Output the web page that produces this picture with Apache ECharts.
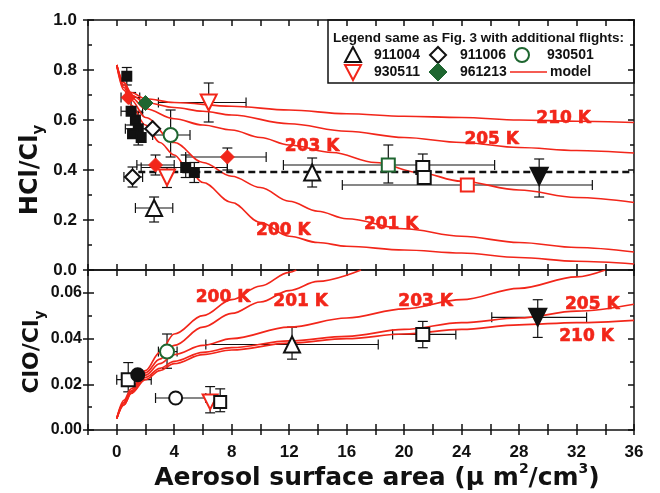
<!DOCTYPE html>
<html>
<head>
<meta charset="utf-8">
<script src="https://cdn.jsdelivr.net/npm/echarts@6/dist/echarts.min.js"></script>
<style>
  html, body { margin: 0; padding: 0; background: #fff; }
  #chart { width: 660px; height: 493px; }
</style>
</head>
<body>
<div id="chart"></div>
<script>
// model curves, HCl/Cly panel  [x, y]
const hcl210 = [[0,0.82],[0.5,0.75],[1,0.71],[2,0.685],[4,0.67],[8,0.655],[12,0.64],[16,0.625],[20,0.615],[24,0.61],[28,0.60],[32,0.595],[36,0.59]];
const hcl205 = [[0,0.82],[0.5,0.75],[1,0.70],[2,0.67],[4,0.65],[6,0.635],[8,0.62],[12,0.585],[16,0.555],[20,0.53],[24,0.51],[28,0.49],[32,0.478],[36,0.468]];
const hcl203 = [[0,0.82],[0.5,0.74],[1,0.69],[2,0.645],[4,0.605],[6,0.58],[8,0.56],[10,0.53],[12,0.50],[15,0.47],[18,0.43],[21,0.39],[24,0.355],[28,0.32],[32,0.29],[36,0.27]];
const hcl201 = [[0,0.82],[0.5,0.73],[1,0.68],[2,0.61],[4,0.51],[6,0.43],[8,0.375],[10,0.33],[12,0.275],[14,0.235],[16,0.205],[20,0.165],[24,0.135],[28,0.11],[32,0.09],[36,0.072]];
const hcl200 = [[0,0.82],[0.5,0.72],[1,0.66],[2,0.58],[3,0.51],[4,0.46],[5,0.40],[6,0.35],[8,0.27],[10,0.19],[12,0.135],[14,0.11],[16,0.095],[20,0.08],[24,0.068],[28,0.05],[32,0.035],[36,0.024]];

// model curves, ClO/Cly panel
const clo200 = [[0,0.005],[0.5,0.013],[1,0.018],[2,0.026],[3,0.034],[4,0.042],[6,0.050],[8,0.057],[10,0.063],[12,0.069],[12.5,0.07]];
const clo201 = [[0,0.005],[0.5,0.012],[1,0.017],[2,0.025],[3,0.031],[4,0.037],[6,0.045],[8,0.051],[10,0.056],[12,0.061],[14,0.065],[17,0.07]];
const clo203 = [[0,0.005],[0.5,0.012],[1,0.017],[2,0.024],[3,0.029],[4,0.033],[6,0.037],[8,0.040],[12,0.045],[16,0.049],[20,0.053],[24,0.057],[28,0.062],[32,0.067],[34,0.07]];
const clo205 = [[0,0.005],[0.5,0.011],[1,0.016],[2,0.023],[3,0.027],[4,0.030],[6,0.034],[8,0.036],[12,0.039],[16,0.041],[20,0.044],[24,0.047],[28,0.049],[32,0.052],[36,0.055]];
const clo210 = [[0,0.005],[0.5,0.011],[1,0.016],[2,0.022],[3,0.026],[4,0.029],[6,0.033],[8,0.035],[12,0.038],[16,0.040],[20,0.042],[24,0.044],[28,0.046],[32,0.047],[36,0.048]];

// curve labels [text, x, y]
const hclLabels = [['210 K',31.1,0.604],['205 K',26.1,0.52],['203 K',13.6,0.492],['201 K',19.1,0.18],['200 K',11.6,0.156]];
const cloLabels = [['200 K',7.4,0.058],['201 K',12.8,0.056],['203 K',21.5,0.056],['205 K',33.1,0.055],['210 K',32.7,0.041]];

// reference line
const hclRefLine = [[1.5,0.392],[36,0.392]];

// observations [x, y, xLow, xHigh, yLow, yHigh]
const hcl911004 = [[2.6,0.248,1.3,3.9,0.192,0.292],[13.6,0.39,null,null,0.332,0.448]];
const clo911004 = [[12.2,0.0374,6.2,18.2,0.031,0.045]];
const hcl911006 = [[1.1,0.372,0.5,1.8,0.332,0.412],[2.5,0.565,null,null,null,null]];
const hcl930501 = [[3.75,0.54,2.5,5.1,0.452,0.64]];
const clo930501 = [[3.5,0.0343,2.9,4.2,0.027,0.042]];
const hcl930511 = [[6.4,0.67,2.9,9.0,0.592,0.748],[3.5,0.37,null,null,0.33,0.41]];
const clo930511 = [[6.5,0.0123,null,null,0.0075,0.019]];
const hcl961213 = [[2.0,0.668,null,null,null,null]];
// other flights of Fig. 3
const hclBlackSq = [[0.7,0.775,null,null,0.74,0.81],[1.0,0.635,0.3,1.8,0.58,0.71],[1.3,0.60,null,null,null,null],[1.5,0.565,0.6,2.3,0.5,0.63],[1.1,0.545,null,null,null,null],[1.7,0.53,null,null,null,null],[4.8,0.41,1.7,7.7,0.37,0.46],[5.4,0.39,null,null,0.35,0.43]];
const hclRedDia = [[0.8,0.69,0.3,1.6,null,null],[2.7,0.42,1.4,4.0,0.38,0.46],[7.7,0.452,4.8,10.4,0.4,0.488]];
const hclGreenSq = [[18.9,0.42,11.6,26.3,0.348,0.5]];
const hclOpenSq = [[21.3,0.41,null,null,0.352,0.464],[21.4,0.37,null,null,null,null]];
const cloOpenSq = [[21.3,0.0418,19.2,23.6,0.036,0.0475],[0.8,0.022,0,2.4,0.0167,0.0295]];
const hclRedSq = [[24.4,0.34,15.7,33.1,null,null]];
const hclBlackInv = [[29.4,0.375,null,null,0.292,0.444]];
const cloBlackInv = [[29.3,0.0493,26.1,32.7,0.0405,0.057]];
const cloBlackCirc = [[1.46,0.0242,null,null,null,null]];
const cloCrossCirc = [[4.1,0.014,2.7,6.2,null,null]];
const cloHatchSq = [[7.2,0.0123,null,null,0.008,0.018]];

const RED = '#f2261a';
const GREEN = '#1e6630';
const INK = '#111';
const FONT = 'Liberation Sans';
const WIDE = 'DejaVu Sans';

const chart = echarts.init(document.getElementById('chart'));

function errBars(params, api) {
  const x = api.value(0), y = api.value(1);
  const xl = api.value(2), xh = api.value(3), yl = api.value(4), yh = api.value(5);
  const st = { stroke: INK, lineWidth: 1.2, fill: null };
  const kids = [];
  const line = (a, b) => kids.push({ type: 'line', shape: { x1: a[0], y1: a[1], x2: b[0], y2: b[1] }, style: st });
  if (isFinite(xl) && isFinite(xh)) {
    const a = api.coord([xl, y]), b = api.coord([xh, y]);
    line(a, b);
    line([a[0], a[1] - 5], [a[0], a[1] + 5]);
    line([b[0], b[1] - 5], [b[0], b[1] + 5]);
  }
  if (isFinite(yl) && isFinite(yh)) {
    const a = api.coord([x, yl]), b = api.coord([x, yh]);
    line(a, b);
    line([a[0] - 5, a[1]], [a[0] + 5, a[1]]);
    line([b[0] - 5, b[1]], [b[0] + 5, b[1]]);
  }
  return { type: 'group', children: kids };
}

function errSeries(grid, rows) {
  const ax = grid === 0 ? 0 : 3;
  return {
    type: 'custom', xAxisIndex: ax, yAxisIndex: ax, z: 2, silent: true,
    renderItem: errBars,
    dimensions: ['x', 'y', 'xl', 'xh', 'yl', 'yh'],
    encode: { x: 0, y: 1 },
    data: rows.map(r => r.map(v => (v === null ? '-' : v)))
  };
}

function pts(grid, rows, symbol, size, fill, stroke, rotate, bw) {
  const ax = grid === 0 ? 0 : 3;
  return {
    type: 'scatter', xAxisIndex: ax, yAxisIndex: ax, z: 5, silent: true,
    symbol: symbol, symbolSize: size, symbolRotate: rotate || 0,
    itemStyle: { color: fill, borderColor: stroke, borderWidth: bw === undefined ? 2 : bw, opacity: 1 },
    data: rows.map(r => [r[0], r[1]])
  };
}

function curve(grid, data) {
  const ax = grid === 0 ? 0 : 3;
  return {
    type: 'line', xAxisIndex: ax, yAxisIndex: ax, z: 3, silent: true,
    data: data, smooth: 0.35, smoothMonotone: 'x', showSymbol: false, symbol: 'none',
    lineStyle: { color: RED, width: 1.7 }
  };
}

function curveLabels(grid, rows) {
  const ax = grid === 0 ? 0 : 3;
  return {
    type: 'scatter', xAxisIndex: ax, yAxisIndex: ax, z: 6, silent: true,
    symbolSize: 0,
    itemStyle: { color: RED, opacity: 1 },
    label: {
      show: true, position: 'inside', formatter: p => p.name,
      color: RED, fontFamily: WIDE, fontWeight: 'bold', fontSize: 17,
      textBorderColor: RED, textBorderWidth: 0.6, opacity: 1
    },
    data: rows.map(r => ({ name: r[0], value: [r[1], r[2]] }))
  };
}

const tickStyle = { color: INK, width: 1.5 };
function xAx(grid, pos, opts) {
  return Object.assign({
    type: 'value', gridIndex: grid, position: pos, min: -2, max: 36, interval: 2,
    splitLine: { show: false },
    axisLine: { show: true, onZero: false, lineStyle: { color: INK, width: 1.5 } },
    axisTick: { show: true, inside: true, length: 6, lineStyle: tickStyle },
    axisLabel: { show: false }
  }, opts || {});
}
function yAx(grid, pos, opts) {
  return Object.assign({
    type: 'value', gridIndex: grid, position: pos,
    splitLine: { show: false },
    axisLine: { show: true, onZero: false, lineStyle: { color: INK, width: 1.5 } },
    axisTick: { show: true, inside: true, length: 6, lineStyle: tickStyle },
    minorTick: { show: true, splitNumber: 2, length: 4, lineStyle: tickStyle },
    axisLabel: { show: false }
  }, opts || {});
}

const hclRange = { min: 0, max: 1, interval: 0.2 };
const cloRange = { min: 0, max: 0.07, interval: 0.02 };

const legendText = (x, y, t, size) => ({
  type: 'text', x: x, y: y,
  style: { text: t, fontFamily: FONT, fontWeight: 'bold', fontSize: size || 13.5, fill: INK, verticalAlign: 'middle' }
});

const option = {
  animation: false,
  backgroundColor: '#fff',
  grid: [
    { left: 88, top: 20, width: 546, height: 250 },
    { left: 88, top: 270, width: 546, height: 160 }
  ],
  xAxis: [
    xAx(0, 'bottom'),
    xAx(0, 'top'),
    xAx(1, 'top'),
    xAx(1, 'bottom', {
      axisLabel: {
        show: true, margin: 14, color: INK, fontFamily: FONT, fontWeight: 'bold', fontSize: 17,
        formatter: v => (v >= 0 && v % 4 === 0 ? String(v) : '')
      }
    }),
    xAx(1, 'bottom', {
      axisLine: { show: false, onZero: false },
      axisTick: { show: true, inside: false, length: 5, lineStyle: tickStyle }
    })
  ],
  yAxis: [
    yAx(0, 'left', Object.assign({
      axisLabel: {
        show: true, margin: 11, color: INK, fontFamily: FONT, fontWeight: 'bold', fontSize: 17,
        formatter: v => v.toFixed(1)
      }
    }, hclRange)),
    yAx(0, 'left', Object.assign({
      axisLine: { show: false, onZero: false },
      axisTick: { show: true, inside: false, length: 5, lineStyle: tickStyle },
      minorTick: { show: false }
    }, hclRange)),
    yAx(0, 'right', hclRange),
    yAx(1, 'left', Object.assign({
      axisLabel: {
        show: true, margin: 6, color: INK, fontFamily: FONT, fontWeight: 'bold', fontSize: 16,
        showMaxLabel: false,
        formatter: v => (Math.abs(v * 100 % 2) < 1e-6 || Math.abs(v * 100 % 2 - 2) < 1e-6 ? v.toFixed(2) : '')
      }
    }, cloRange)),
    yAx(1, 'left', Object.assign({
      axisLine: { show: false, onZero: false },
      axisTick: { show: true, inside: false, length: 5, lineStyle: tickStyle },
      minorTick: { show: false }
    }, cloRange)),
    yAx(1, 'right', cloRange)
  ],
  graphic: [
    // y titles
    {
      type: 'text', x: 31, y: 170, rotation: Math.PI / 2, z: 10,
      style: {
        text: '{m|HCl/Cl}{s|y}', align: 'center', verticalAlign: 'middle',
        rich: {
          m: { fontFamily: WIDE, fontWeight: 'bold', fontSize: 24, fill: INK, lineHeight: 32 },
          s: { fontFamily: WIDE, fontWeight: 'bold', fontSize: 15, fill: INK, verticalAlign: 'bottom', lineHeight: 32 }
        }
      }
    },
    {
      type: 'text', x: 32, y: 352, rotation: Math.PI / 2, z: 10,
      style: {
        text: '{m|ClO/Cl}{s|y}', align: 'center', verticalAlign: 'middle',
        rich: {
          m: { fontFamily: WIDE, fontWeight: 'bold', fontSize: 22, fill: INK, lineHeight: 30 },
          s: { fontFamily: WIDE, fontWeight: 'bold', fontSize: 14, fill: INK, verticalAlign: 'bottom', lineHeight: 30 }
        }
      }
    },
    // x title
    {
      type: 'text', x: 377, y: 478, z: 10,
      style: {
        text: '{m|Aerosol surface area (\u03bc m}{p|2}{m|/cm}{p|3}{m|)}', align: 'center', verticalAlign: 'middle',
        rich: {
          m: { fontFamily: WIDE, fontWeight: 'bold', fontSize: 25, fill: INK, lineHeight: 32 },
          p: { fontFamily: WIDE, fontWeight: 'bold', fontSize: 14, fill: INK, verticalAlign: 'top', lineHeight: 32 }
        }
      }
    },
    // legend box
    {
      type: 'group', z: 20,
      children: [
        { type: 'rect', shape: { x: 328, y: 20, width: 306, height: 63 }, style: { fill: '#fff', stroke: INK, lineWidth: 1.5 } },
        legendText(333, 38, 'Legend same as Fig. 3 with additional flights:'),
        { type: 'polygon', shape: { points: [[353, 47], [345, 62], [361, 62]] }, style: { fill: '#fff', stroke: INK, lineWidth: 2 } },
        legendText(374, 55, '911004', 14),
        { type: 'polygon', shape: { points: [[438, 47], [446, 55], [438, 63], [430, 55]] }, style: { fill: '#fff', stroke: INK, lineWidth: 2 } },
        legendText(460, 55, '911006', 14),
        { type: 'circle', shape: { cx: 522, cy: 55, r: 7 }, style: { fill: '#fff', stroke: GREEN, lineWidth: 2 } },
        legendText(547, 55, '930501', 14),
        { type: 'polygon', shape: { points: [[345, 65], [361, 65], [353, 80]] }, style: { fill: '#fff', stroke: RED, lineWidth: 2 } },
        legendText(374, 72, '930511', 14),
        { type: 'polygon', shape: { points: [[438, 63], [447, 72], [438, 81], [429, 72]] }, style: { fill: GREEN, stroke: GREEN, lineWidth: 1 } },
        legendText(460, 72, '961213', 14),
        { type: 'line', shape: { x1: 510, y1: 72, x2: 547, y2: 72 }, style: { stroke: RED, lineWidth: 1.5 } },
        legendText(550, 72, 'model', 14)
      ]
    }
  ],
  series: [
    errSeries(0, [].concat(hcl911004, hcl911006, hcl930501, hcl930511, hcl961213, hclBlackSq, hclRedDia, hclGreenSq, hclOpenSq, hclRedSq, hclBlackInv)),
    errSeries(1, [].concat(clo911004, clo930501, clo930511, cloOpenSq, cloBlackInv, cloBlackCirc, cloCrossCirc, cloHatchSq)),

    curve(0, hcl210), curve(0, hcl205), curve(0, hcl203), curve(0, hcl201), curve(0, hcl200),
    curve(1, clo200), curve(1, clo201), curve(1, clo203), curve(1, clo205), curve(1, clo210),

    {
      type: 'line', xAxisIndex: 0, yAxisIndex: 0, z: 4, silent: true, data: hclRefLine,
      symbol: 'none', lineStyle: { color: INK, width: 2.5, type: [7, 4] }
    },

    pts(0, hclBlackSq, 'rect', 9, INK, INK),
    pts(0, hclRedDia, 'diamond', 14, RED, RED, 0, 1),
    pts(0, hclGreenSq, 'rect', 13, '#fff', GREEN),
    pts(0, hclOpenSq, 'rect', 13, '#fff', INK),
    pts(0, hclRedSq, 'rect', 13, '#fff', RED),
    pts(0, hclBlackInv, 'triangle', 17, INK, INK, 180),
    pts(0, hcl911004, 'triangle', 16, '#fff', INK),
    pts(0, hcl911006, 'diamond', 15, '#fff', INK),
    pts(0, hcl930501, 'circle', 14, '#fff', GREEN),
    pts(0, hcl930511, 'triangle', 16, '#fff', RED, 180),
    pts(0, hcl961213, 'diamond', 15, GREEN, GREEN, 0, 1),

    pts(1, clo911004, 'triangle', 16, '#fff', INK),
    pts(1, clo930501, 'circle', 14, '#fff', GREEN),
    pts(1, clo930511, 'triangle', 15, '#fff', RED, 180),
    pts(1, cloOpenSq, 'rect', 13, '#fff', INK),
    pts(1, cloBlackInv, 'triangle', 17, INK, INK, 180),
    pts(1, cloBlackCirc, 'circle', 13, INK, INK),
    pts(1, cloCrossCirc, 'circle', 13, '#fff', INK),
    pts(1, cloHatchSq, 'rect', 12, '#fff', INK),

    curveLabels(0, hclLabels),
    curveLabels(1, cloLabels)
  ]
};

chart.setOption(option);
</script>
</body>
</html>
